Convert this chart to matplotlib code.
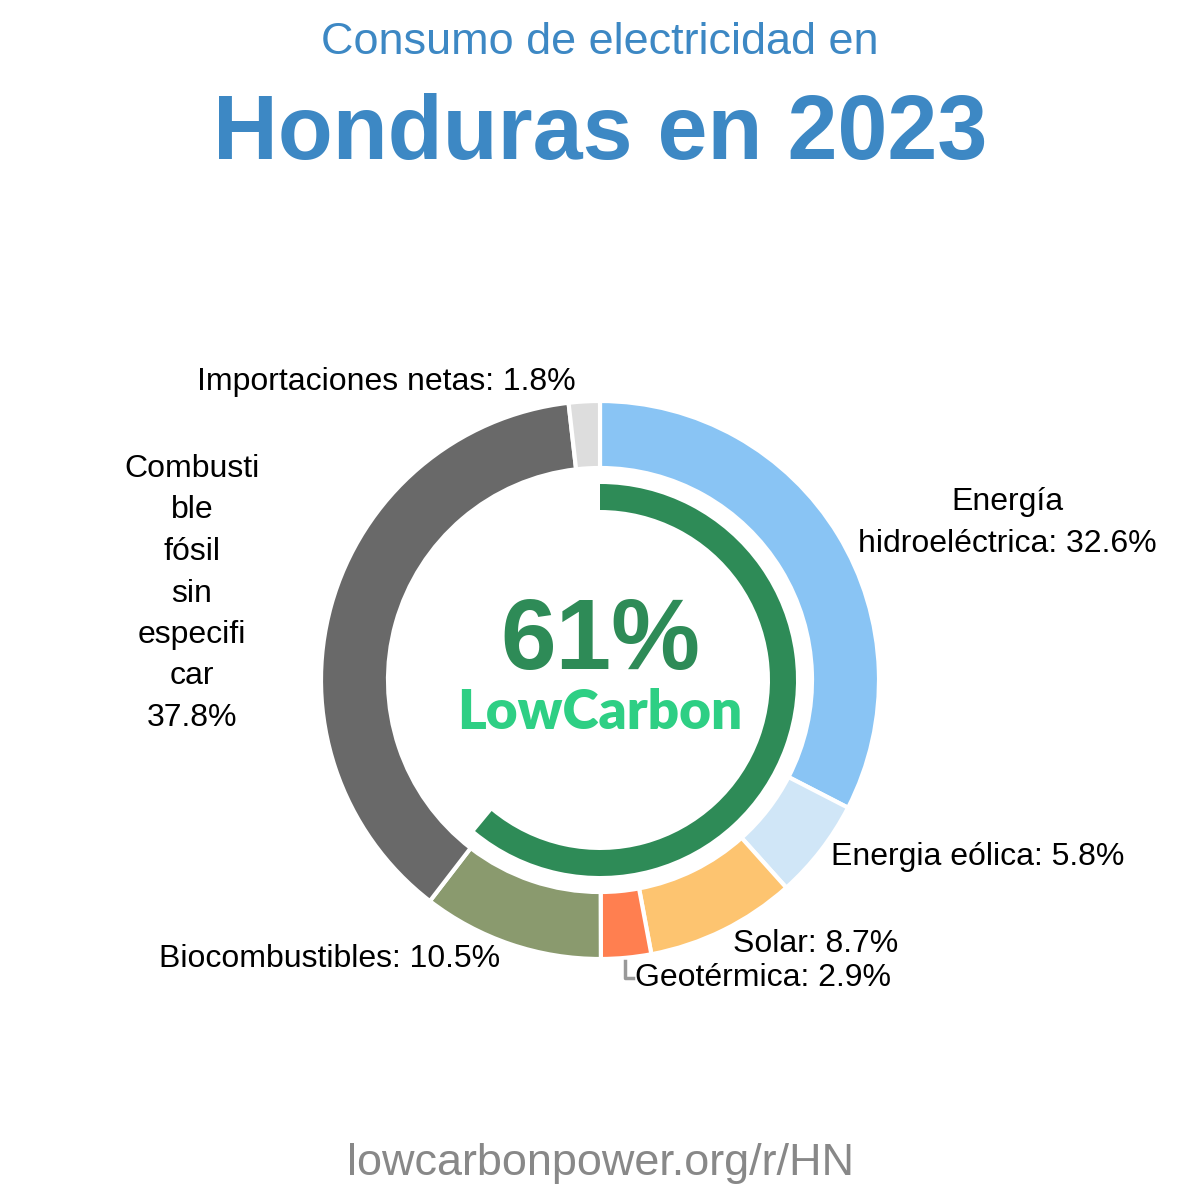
import matplotlib
matplotlib.use("Agg")
import matplotlib.pyplot as plt
from matplotlib.patches import Wedge
from matplotlib.lines import Line2D

plt.rcParams['font.family'] = ['Liberation Sans', 'DejaVu Sans']

title_small = "Consumo de electricidad en"
title_big = "Honduras en 2023"
footer = "lowcarbonpower.org/r/HN"
sources = ["Energía hidroeléctrica", "Energia eólica", "Solar", "Geotérmica",
           "Biocombustibles", "Combustible fósil sin especificar", "Importaciones netas"]
shares = [32.6, 5.8, 8.7, 2.9, 10.5, 37.8, 1.8]
colors = ["#89c4f4", "#d0e6f7", "#fdc470", "#ff7f50", "#8a9a6e", "#696969", "#dddddd"]
lowcarbon_share = 61

W = H = 1200
fig = plt.figure(figsize=(12, 12), dpi=100)
ax = fig.add_axes([0, 0, 1, 1])
cx, cy = 600, 680

def P(px, py):
    return px - cx, cy - py

# donut
ax.pie(shares, colors=colors, radius=279, startangle=90, counterclock=False,
       wedgeprops=dict(width=67, edgecolor='white', linewidth=3), center=(0, 0), frame=True)
ax.set_xlim(-cx, W - cx)
ax.set_ylim(-(H - cy), cy)
ax.set_aspect('equal')
ax.axis('off')

# low-carbon arc
ang = lowcarbon_share / 100 * 360
ax.add_patch(Wedge((0, 0), 196, 90 - ang, 90, width=26, facecolor='#2e8b57', edgecolor='none'))

# center text
ax.text(*P(600, 643), f"{lowcarbon_share}%", ha='center', va='center', fontsize=72,
        fontweight='bold', color='#2e8b57')
ax.text(*P(600, 713), "LowCarbon", ha='center', va='center', fontsize=39.5,
        fontweight='heavy', color='#2ecf84', family=['Lato', 'DejaVu Sans'])

# titles
ax.text(*P(600, 43), title_small, ha='center', va='center', fontsize=32.4, color='#3d88c4')
ax.text(*P(600, 136), title_big, ha='center', va='center', fontsize=64.7, fontweight='bold',
        color='#3d88c4')
ax.text(*P(600, 1163), footer, ha='center', va='center', fontsize=32.4, color='#888888')

fs = 23
def lab(px, py, s, ha='center'):
    ax.text(*P(px, py), s, ha=ha, va='center', fontsize=fs, color='black')

lab(386, 382, f"{sources[6]}: {shares[6]}%")
lab(1007, 502, "Energía")
lab(1007, 544, f"hidroeléctrica: {shares[0]}%")
lab(831, 857, f"{sources[1]}: {shares[1]}%", ha='left')
lab(733, 944, f"{sources[2]}: {shares[2]}%", ha='left')
lab(635, 978, f"{sources[3]}: {shares[3]}%", ha='left')
lab(330, 959, f"{sources[4]}: {shares[4]}%")
for i, s in enumerate(["Combusti", "ble", "fósil", "sin", "especifi", "car", f"{shares[5]}%"]):
    lab(192, 469 + i * 41.5, s)

# leader for geothermal
x0, y0 = P(625, 961)
x1, y1 = P(625, 978)
x2, y2 = P(633, 978)
ax.add_line(Line2D([x0, x1, x2], [y0, y1, y2], color='#999999', linewidth=2.5))

fig.savefig("out.png", dpi=100, facecolor='white')
